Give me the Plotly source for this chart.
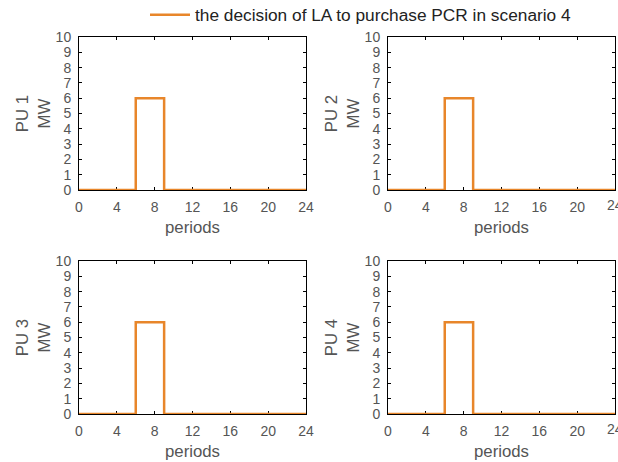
import plotly.graph_objects as go

periods = list(range(0, 25))
pcr_values = [0, 0, 0, 0, 0, 0, 6, 6, 6, 0, 0, 0, 0, 0, 0, 0, 0, 0, 0, 0, 0, 0, 0, 0, 0]
panel_labels = ["PU 1", "PU 2", "PU 3", "PU 4"]
legend_label = "the decision of LA to purchase PCR in scenario 4"
x_ticks = [0, 4, 8, 12, 16, 20, 24]
y_ticks = list(range(0, 11))

W, H = 618, 462
orange = "#E8862A"
gray = "#555555"
font_family = "Liberation Sans, Arial, Helvetica, sans-serif"

xdoms = [[79 / W, 306 / W], [388 / W, 615 / W]]
ydoms = [[(H - 190) / H, (H - 37) / H], [(H - 414) / H, (H - 261) / H]]

fig = go.Figure()
layout = dict(
    width=W, height=H,
    margin=dict(l=0, r=0, t=0, b=0, autoexpand=False),
    paper_bgcolor="white", plot_bgcolor="white",
    font=dict(family=font_family, color=gray, size=14),
    showlegend=True,
    legend=dict(orientation="h", x=145 / W, xanchor="left", y=1 + 3 / H, yanchor="top",
                font=dict(size=17.3, color="#222222"), bgcolor="rgba(0,0,0,0)",
                itemwidth=40),
)
annotations = []
for i, lab in enumerate(panel_labels):
    r, c = divmod(i, 2)
    k = "" if i == 0 else str(i + 1)
    fig.add_trace(go.Scatter(
        x=periods, y=pcr_values, mode="lines", line_shape="hv",
        line=dict(color=orange, width=2.5), name=legend_label,
        showlegend=(i == 0), cliponaxis=False,
        xaxis="x" + k, yaxis="y" + k,
    ))
    common = dict(showline=True, linecolor="black", linewidth=1, mirror="ticks",
                  ticks="inside", ticklen=3, tickcolor="black", showgrid=False,
                  zeroline=False, layer="below traces", automargin=False,
                  tickfont=dict(size=14, color=gray))
    layout["xaxis" + k] = dict(domain=xdoms[c], anchor="y" + k, range=[0, 24],
                               tickvals=x_ticks, ticklabelstandoff=4,
                               title=dict(text="periods", font=dict(size=16.8, color=gray), standoff=7),
                               **common)
    layout["yaxis" + k] = dict(domain=ydoms[r], anchor="x" + k, range=[0, 10],
                               tickvals=y_ticks, ticklabelstandoff=4,
                               title=dict(text=lab + "<br>MW", font=dict(size=16.8, color=gray), standoff=0),
                               **common)
    if c == 1:
        # last tick label runs past the page edge in the reference; plotly hides it, so draw it as text
        annotations.append(dict(
            x=x_ticks[-1], y=0, xref="x" + k, yref="y" + k, text=str(x_ticks[-1]),
            showarrow=False, xanchor="center", yanchor="top", yshift=-5,
            font=dict(size=14, color=gray, family=font_family),
        ))
layout["annotations"] = annotations
fig.update_layout(**layout)
fig.write_html("out.html")
